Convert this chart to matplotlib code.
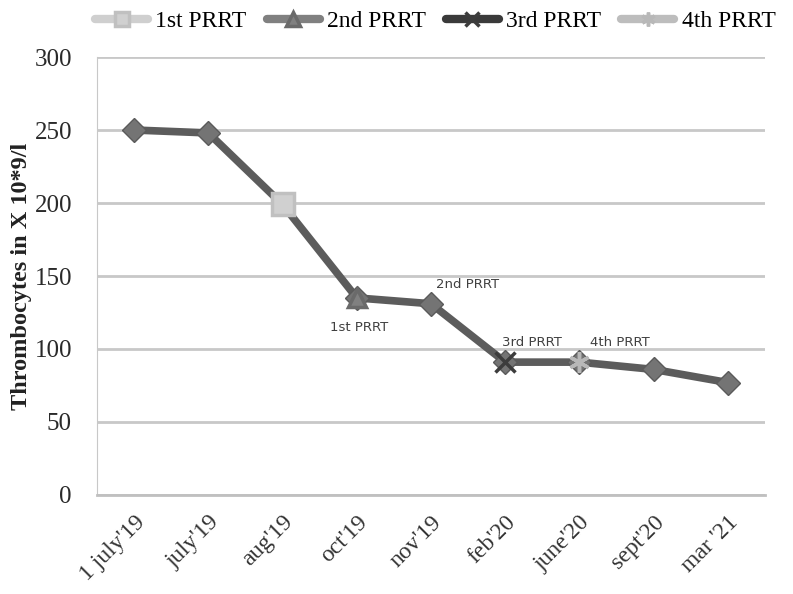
import numpy as np
import matplotlib.pyplot as plt

# data
dates = ["1 july'19", "july'19", "aug'19", "oct'19", "nov'19", "feb'20", "june'20", "sept'20", "mar '21"]
thrombocytes = [250, 248, 199, 135, 131, 91, 91, 86, 77]

# PRRT events: (series name, index into dates)
prrt_names = ["1st PRRT", "2nd PRRT", "3rd PRRT", "4th PRRT"]
prrt_idx = [2, 3, 5, 6]
labels_idx = [3, 4, 5, 6]
label_offsets = [(2, -21), (26, 14), (19, 14), (29, 14)]

fig = plt.figure(figsize=(7.93, 5.94), dpi=100)
ax = fig.add_axes([0.1223, 0.1667, 0.8424, 0.7373])

x = np.arange(len(dates))
ax.plot(x, thrombocytes, color='#5c5c5c', lw=5.5, marker='D', ms=12,
        mfc='#747474', mec='#5a5a5a', zorder=3, solid_capstyle='round')

asterisk = (6, 2, 0)
styles = [
    dict(marker='s', ms=16, mfc='#d0d0d0', mec='#c0c0c0', color='#cfcfcf'),
    dict(marker='^', ms=13, mfc='#808080', mec='#6a6a6a', color='#808080'),
    dict(marker='x', ms=14, mfc='#3c3c3c', mec='#3c3c3c', color='#3a3a3a'),
    dict(marker=asterisk, ms=15, mfc='#b8b8b8', mec='#b8b8b8', color='#bdbdbd'),
]

handles = []
for name, i, st in zip(prrt_names, prrt_idx, styles):
    ax.plot(x[i], thrombocytes[i], ls='none', marker=st['marker'], ms=st['ms'],
            mfc=st['mfc'], mec=st['mec'], mew=2.5, zorder=4)
    h, = ax.plot([], [], color=st['color'], lw=6, marker=st['marker'], ms=10,
                 mfc=st['mfc'], mec=st['mec'], mew=2.5, label=name,
                 solid_capstyle='round')
    handles.append(h)

for name, i, off in zip(prrt_names, labels_idx, label_offsets):
    ax.annotate(name, (x[i], thrombocytes[i]), xytext=off, textcoords='offset points',
                ha='center', va='center', fontsize=9.5, color='#404040', family='DejaVu Sans')

ax.set_xlim(-0.5, len(dates) - 0.5)
ax.set_ylim(0, 300)
ax.set_yticks(range(0, 301, 50))
ax.yaxis.grid(True, color='#c8c8c8', lw=2)
ax.set_axisbelow(True)
for s in ['top', 'right']:
    ax.spines[s].set_visible(False)
ax.spines['left'].set_color('#c8c8c8')
ax.spines['bottom'].set_color('#c0c0c0')
ax.spines['bottom'].set_linewidth(2)
ax.tick_params(axis='y', length=0, pad=18)
ax.tick_params(axis='x', length=0, pad=12)

ax.set_xticks(x)
ax.set_xticklabels(dates, rotation=45, ha='right', rotation_mode='anchor',
                   fontsize=17, family='Liberation Serif', color='#333333')
for t in ax.get_yticklabels():
    t.set_family('Liberation Serif')
    t.set_fontsize(18)
    t.set_color('#2a2a2a')

ax.set_ylabel('Thrombocytes in X 10*9/l', fontsize=17.5, fontweight='bold',
              family='Liberation Serif', labelpad=2, color='#222222')

fig.legend(handles=handles, loc='upper left', bbox_to_anchor=(0.108, 0.998), ncol=4,
           frameon=False, handlelength=2.25, columnspacing=0.85, handletextpad=0.3,
           borderaxespad=0, prop={'family': 'Liberation Serif', 'size': 17})

fig.savefig('out.png', dpi=100)
